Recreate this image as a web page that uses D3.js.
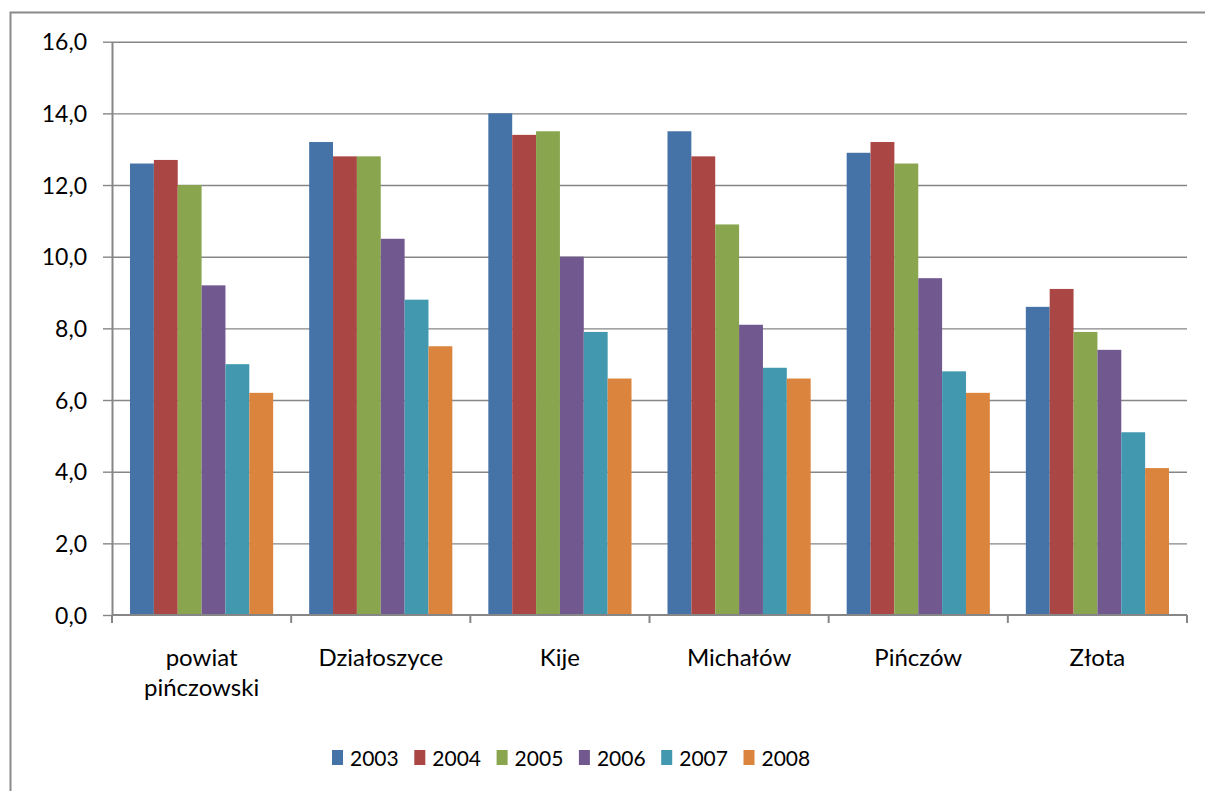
<!DOCTYPE html>
<html>
<head>
<meta charset="utf-8">
<script src="https://cdn.jsdelivr.net/npm/d3@7"></script>
<style>
    body { margin: 0; background: #fff; }
    text { font-family: Lato, "Open Sans", sans-serif; fill: #000; }
</style>
</head>
<body>
<div id="chart"></div>
<script>
var categories = [["powiat", "pińczowski"], ["Działoszyce"], ["Kije"], ["Michałów"], ["Pińczów"], ["Złota"]];
var years = ["2003", "2004", "2005", "2006", "2007", "2008"];
var colors = ["#4572A7", "#AA4643", "#89A54E", "#71588F", "#4198AF", "#DB843D"];
// one array per year, in category order
var v2003 = [12.6, 13.2, 14.0, 13.5, 12.9, 8.6];
var v2004 = [12.7, 12.8, 13.4, 12.8, 13.2, 9.1];
var v2005 = [12.0, 12.8, 13.5, 10.9, 12.6, 7.9];
var v2006 = [9.2, 10.5, 10.0, 8.1, 9.4, 7.4];
var v2007 = [7.0, 8.8, 7.9, 6.9, 6.8, 5.1];
var v2008 = [6.2, 7.5, 6.6, 6.6, 6.2, 4.1];
var yTicks = [0, 2, 4, 6, 8, 10, 12, 14, 16];

var series = [v2003, v2004, v2005, v2006, v2007, v2008];

var W = 1205, H = 791;
var margin = { left: 112, top: 41.7, right: 18, bottom: 176 };
var width = W - margin.left - margin.right;
var height = H - margin.top - margin.bottom;

var svg = d3.select("#chart").append("svg")
    .attr("width", W)
    .attr("height", H);

// outer frame (only top and left visible)
svg.append("rect")
    .attr("x", 10.5).attr("y", 12.5)
    .attr("width", W + 20).attr("height", H + 20)
    .attr("fill", "none")
    .attr("stroke", "#8a8a8a")
    .attr("stroke-width", 2);

var g = svg.append("g")
    .attr("transform", "translate(" + margin.left + "," + margin.top + ")");

var names = categories.map(function (c) { return c.join(" "); });

var x0 = d3.scaleBand().domain(names).range([0, width]).padding(0);
var x1 = d3.scaleBand().domain(years).range([18, x0.bandwidth() - 18]).padding(0);
var y = d3.scaleLinear().domain([0, 16]).range([height, 0]);

// gridlines
var grid = g.append("g")
    .call(d3.axisLeft(y).tickValues(yTicks.slice(1)).tickSize(-width).tickFormat(""));
grid.select(".domain").remove();
grid.selectAll("line").attr("stroke", "#868686").attr("stroke-width", 1.4);

// y axis with ticks and labels
var yAxis = g.append("g")
    .call(d3.axisLeft(y).tickValues(yTicks).tickSize(9).tickSizeOuter(0).tickPadding(16)
        .tickFormat(function (d) { return d.toFixed(1).replace(".", ","); }));
yAxis.select(".domain").attr("stroke", "#868686").attr("stroke-width", 2);
yAxis.selectAll("line").attr("stroke", "#868686").attr("stroke-width", 1.4);
yAxis.selectAll("text").style("font-size", "23px").attr("dy", "0.36em").attr("fill", "#000");

// bars
var groups = g.selectAll(".group")
    .data(names)
    .enter()
    .append("g")
    .attr("class", "group")
    .attr("transform", function (d) { return "translate(" + x0(d) + ",0)"; });

groups.selectAll("rect")
    .data(function (d, i) {
        return years.map(function (yr, j) { return { year: yr, value: series[j][i], color: colors[j] }; });
    })
    .enter()
    .append("rect")
    .attr("x", function (d) { return x1(d.year); })
    .attr("y", function (d) { return y(d.value); })
    .attr("width", x1.bandwidth())
    .attr("height", function (d) { return height - y(d.value); })
    .attr("fill", function (d) { return d.color; });

// x axis line and ticks at category boundaries
var boundaries = names.map(function (n) { return x0(n); }).concat([width]);
var xAxis = g.append("g").attr("transform", "translate(0," + height + ")");
xAxis.append("line")
    .attr("x1", 0).attr("x2", width)
    .attr("stroke", "#868686").attr("stroke-width", 2);
xAxis.selectAll(".tk")
    .data(boundaries)
    .enter()
    .append("line")
    .attr("class", "tk")
    .attr("x1", function (d) { return d; })
    .attr("x2", function (d) { return d; })
    .attr("y1", 0).attr("y2", 8)
    .attr("stroke", "#868686").attr("stroke-width", 2);

// category labels
var labels = xAxis.selectAll(".cat")
    .data(categories)
    .enter()
    .append("text")
    .attr("class", "cat")
    .attr("text-anchor", "middle")
    .style("font-size", "24px")
    .attr("transform", function (d, i) { return "translate(" + (x0(names[i]) + x0.bandwidth() / 2) + ",51)"; });
labels.selectAll("tspan")
    .data(function (d) { return d; })
    .enter()
    .append("tspan")
    .attr("x", 0)
    .attr("dy", function (d, i) { return i === 0 ? 0 : 30; })
    .text(function (d) { return d; });

// legend
var legendX = d3.scaleBand().domain(years).range([332, 332 + 82.3 * 6]);
var legend = svg.selectAll(".legend")
    .data(years)
    .enter()
    .append("g")
    .attr("class", "legend")
    .attr("transform", function (d) { return "translate(" + legendX(d) + ",750)"; });
legend.append("rect")
    .attr("width", 11)
    .attr("height", 15)
    .attr("fill", function (d, i) { return colors[i]; });
legend.append("text")
    .attr("x", 18)
    .attr("y", 15.5)
    .style("font-size", "21px")
    .text(function (d) { return d; });
</script>
</body>
</html>
